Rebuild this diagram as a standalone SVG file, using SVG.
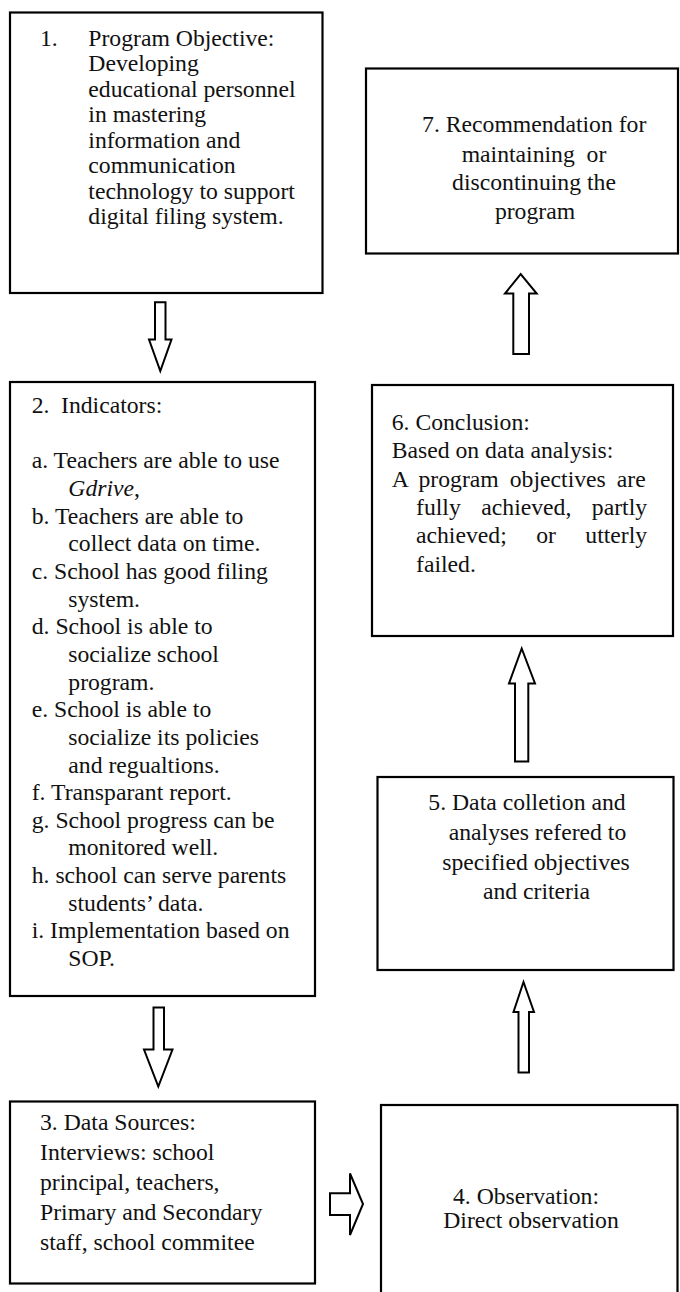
<svg xmlns="http://www.w3.org/2000/svg" width="680" height="1292" viewBox="0 0 680 1292">
<style>
.box{fill:#fff;stroke:#000;stroke-width:2.2}
.arr{fill:#fff;stroke:#000;stroke-width:2;stroke-linejoin:miter}
text{font-family:"Liberation Serif","Times New Roman",serif;font-size:23.7px;fill:#111}
.c{text-anchor:middle}
</style>
<rect width="680" height="1292" fill="#fff"/>
<g id="node1">
<rect class="box" x="10" y="12.5" width="312.5" height="280.5"/>
<text x="40" y="45.7">1.</text>
<text x="88.3" y="45.7">Program Objective:</text>
<text x="88.3" y="71.2">Developing</text>
<text x="88.3" y="96.7">educational personnel</text>
<text x="88.3" y="122.2">in mastering</text>
<text x="88.3" y="147.7">information and</text>
<text x="88.3" y="173.2">communication</text>
<text x="88.3" y="198.7">technology to support</text>
<text x="88.3" y="224.2">digital filing system.</text>
</g>
<g id="node2">
<rect class="box" x="10" y="382" width="305" height="614"/>
<text x="31.7" y="413">2.</text>
<text x="61" y="413">Indicators:</text>
<text x="31.7" y="468.3">a. Teachers are able to use</text>
<text x="68.3" y="496" font-style="italic">Gdrive<tspan font-style="normal">,</tspan></text>
<text x="31.7" y="523.6">b. Teachers are able to</text>
<text x="68.3" y="551.3">collect data on time.</text>
<text x="31.7" y="578.9">c. School has good filing</text>
<text x="68.3" y="606.6">system.</text>
<text x="31.7" y="634.2">d. School is able to</text>
<text x="68.3" y="661.9">socialize school</text>
<text x="68.3" y="689.5">program.</text>
<text x="31.7" y="717.2">e. School is able to</text>
<text x="68.3" y="744.8">socialize its policies</text>
<text x="68.3" y="772.5">and regualtions.</text>
<text x="31.7" y="800.1">f. Transparant report.</text>
<text x="31.7" y="827.8">g. School progress can be</text>
<text x="68.3" y="855.4">monitored well.</text>
<text x="31.7" y="883.1">h. school can serve parents</text>
<text x="68.3" y="910.7">students’ data.</text>
<text x="31.7" y="938.4">i. Implementation based on</text>
<text x="68.3" y="966">SOP.</text>
</g>
<g id="node3">
<rect class="box" x="10" y="1101.5" width="305" height="182"/>
<text x="40" y="1130">3. Data Sources:</text>
<text x="40" y="1160">Interviews: school</text>
<text x="40" y="1190">principal, teachers,</text>
<text x="40" y="1220">Primary and Secondary</text>
<text x="40" y="1249.5">staff, school commitee</text>
</g>
<g id="node4">
<rect class="box" x="381" y="1105" width="296.5" height="200"/>
<text class="c" x="526" y="1204">4. Observation:</text>
<text class="c" x="531" y="1227.5">Direct observation</text>
</g>
<g id="node5">
<rect class="box" x="377.5" y="777" width="296" height="193"/>
<text class="c" x="527" y="810">5. Data colletion and</text>
<text class="c" x="537.5" y="840">analyses refered to</text>
<text class="c" x="536" y="870">specified objectives</text>
<text class="c" x="536.5" y="898.5">and criteria</text>
</g>
<g id="node6">
<rect class="box" x="372" y="385" width="301" height="251"/>
<text x="391.7" y="430">6. Conclusion:</text>
<text x="391.7" y="458.3">Based on data analysis:</text>
<text x="391.7" y="486.7" word-spacing="5.1">A program objectives are</text>
<text x="416" y="515" word-spacing="14.6">fully achieved, partly</text>
<text x="416" y="543.3" word-spacing="23.5">achieved; or utterly</text>
<text x="416" y="571.7">failed.</text>
</g>
<g id="node7">
<rect class="box" x="366" y="68.5" width="312" height="185"/>
<text class="c" x="534.2" y="131.7">7. Recommendation for</text>
<text class="c" x="534" y="161.5" xml:space="preserve">maintaining  or</text>
<text class="c" x="534" y="190">discontinuing the</text>
<text class="c" x="535" y="218.5">program</text>
</g>
<g id="connectors">
<polygon class="arr" points="155,302.3 165.5,302.3 165.5,339.5 171.5,339.5 160.3,371 149,339.5 155,339.5"/>
<polygon class="arr" points="153.5,1007.5 164,1007.5 164,1049.5 172.5,1049.5 158.3,1086.5 144,1049.5 153.5,1049.5"/>
<polygon class="arr" points="330,1193.3 350,1193.3 350,1173.5 363,1204 350,1235 350,1215 330,1215"/>
<polygon class="arr" points="518.5,1072.5 518.5,1012 513.5,1012 523.5,982 534,1012 529,1012 529,1072.5"/>
<polygon class="arr" points="515,761.5 515,683.5 509,683.5 521.7,648.5 535,683.5 528.3,683.5 528.3,761.5"/>
<polygon class="arr" points="513.3,354 513.3,293.5 505,293.5 520.7,274 536.7,293.5 529,293.5 529,354"/>
</g>
</svg>
